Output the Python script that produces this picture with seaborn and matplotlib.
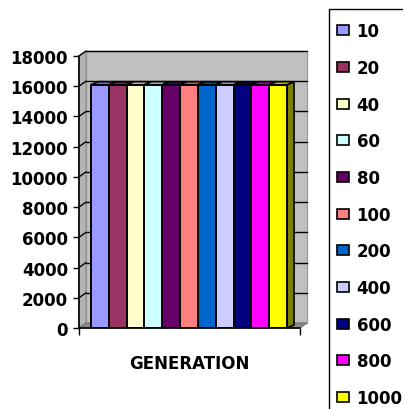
import matplotlib
matplotlib.use("Agg")
import matplotlib.pyplot as plt
from matplotlib.patches import Polygon, Rectangle, Patch
from matplotlib.lines import Line2D
import seaborn as sns
import pandas as pd

# Population size per generation setting
generations = ["10", "20", "40", "60", "80", "100", "200", "400", "600", "800", "1000"]
values = [16100, 16100, 16100, 16100, 16100, 16100, 16100, 16100, 16100, 16100, 16100]
colors = ["#9999FF", "#993366", "#FFFFCC", "#CCFFFF", "#660066", "#FF8080",
          "#0066CC", "#CCCCFF", "#000080", "#FF00FF", "#FFFF00"]
category = "GENERATION"
y_ticks = [0, 2000, 4000, 6000, 8000, 10000, 12000, 14000, 16000, 18000]

sns.set_theme(style="white")
plt.rcParams["font.family"] = ["DejaVu Sans"]
plt.rcParams["font.weight"] = "bold"
plt.rcParams["text.color"] = "black"
plt.rcParams["xtick.color"] = "black"
plt.rcParams["ytick.color"] = "black"
plt.rcParams["axes.labelcolor"] = "black"

df = pd.DataFrame({"cat": [category] * len(generations),
                   "gen": generations, "val": values})

W, H, DPI = 403, 410, 100
fig = plt.figure(figsize=(W / DPI, H / DPI), dpi=DPI, facecolor="white")
ax = fig.add_axes([79 / W, 1 - 329 / H, 221 / W, 272 / H])
ax.set_facecolor("none")

sns.barplot(data=df, x="cat", y="val", hue="gen", hue_order=generations,
            palette=colors, saturation=1, edgecolor="black", linewidth=1.4,
            width=0.8, legend=False, ax=ax, zorder=3)
bars = [p for c in ax.containers for p in c]

ax.set_xlim(-0.449, 0.453)
ax.set_ylim(0, 18000)
ax.set_yticks(y_ticks)
ax.set_xlabel("")
ax.set_ylabel("")

# 3D box: back wall, left wall and floor, offset into depth
ax_w, ax_h = 221.0, 272.0
dx_px, dy_px = 7.0, 5.0
dxa, dya = dx_px / ax_w, dy_px / ax_h
wall = Rectangle((dxa, dya), 1, 1, transform=ax.transAxes, clip_on=False,
                 facecolor="#c0c0c0", edgecolor="#a0a0a0", linewidth=1.0, zorder=0.5)
ax.add_patch(wall)
side = Polygon([(0, 0), (dxa, dya), (dxa, 1 + dya), (0, 1)], closed=True,
               transform=ax.transAxes, clip_on=False, facecolor="#b4b4b4",
               edgecolor="#8a8a8a", linewidth=0.8, zorder=0.6)
ax.add_patch(side)
floor = Polygon([(0, 0), (1, 0), (1 + dxa, dya), (dxa, dya)], closed=True,
                transform=ax.transAxes, clip_on=False, facecolor="#8c8c8c",
                edgecolor="#707070", linewidth=0.8, zorder=0.7)
ax.add_patch(floor)
for v in y_ticks[1:]:
    f = v / 18000
    ax.add_line(Line2D([dxa, 1 + dxa], [f + dya, f + dya], transform=ax.transAxes,
                       clip_on=False, color="black", linewidth=1.0, zorder=0.8))
    ax.add_line(Line2D([0, dxa], [f, f + dya], transform=ax.transAxes,
                       clip_on=False, color="black", linewidth=1.0, zorder=0.8))

# Bar tops and sides
bdx, bdy = 7.0, 3.0
inv = ax.transData.inverted()
o = inv.transform((0, 0))
d = inv.transform((bdx, bdy)) - o
ddx, ddy = d[0], d[1]


def shade(c, k):
    r, g, b = matplotlib.colors.to_rgb(c)
    return (r * k, g * k, b * k)


for p, c in zip(bars, colors):
    x0, w, h = p.get_x(), p.get_width(), p.get_height()
    x1 = x0 + w
    ax.add_patch(Polygon([(x1, 0), (x1 + ddx, ddy), (x1 + ddx, h + ddy), (x1, h)],
                         closed=True, facecolor=shade(c, 0.5), edgecolor="black",
                         linewidth=1.2, zorder=2, clip_on=False))
    ax.add_patch(Polygon([(x0, h), (x1, h), (x1 + ddx, h + ddy), (x0 + ddx, h + ddy)],
                         closed=True, facecolor=shade(c, 0.8), edgecolor="black",
                         linewidth=1.2, zorder=4, clip_on=False))

for s in ["top", "right"]:
    ax.spines[s].set_visible(False)
for s in ["left", "bottom"]:
    ax.spines[s].set_color("black")
    ax.spines[s].set_linewidth(1.2)
    ax.spines[s].set_zorder(5)

ax.tick_params(axis="y", length=4.3, width=1, pad=3.6, direction="out",
               labelsize=12, colors="black", left=True)
ax.tick_params(axis="x", which="major", length=0, pad=19, labelsize=12,
               labelcolor="black")
ax.set_xticks([ax.get_xlim()[0], ax.get_xlim()[1]], minor=True)
ax.tick_params(axis="x", which="minor", length=5, width=1, direction="out",
               bottom=True, colors="black")
for t in ax.get_xticklabels() + ax.get_yticklabels():
    t.set_fontweight("bold")
    t.set_color("black")

# Legend box running past the right and bottom edges
fig.patches.append(Rectangle((329 / W, -0.05), 0.3, 1 - 10 / H + 0.05,
                             transform=fig.transFigure, facecolor="white",
                             edgecolor="black", linewidth=1.0, zorder=1))
handles = [Patch(facecolor=c, edgecolor="black", linewidth=1.2) for c in colors]
leg = fig.legend(handles, generations, loc="upper left",
                 bbox_to_anchor=(329 / W, 1 - 15 / H), borderaxespad=0,
                 frameon=False, prop={"size": 12, "weight": "bold"},
                 handlelength=0.7, handleheight=0.55, handletextpad=0.45,
                 labelspacing=1.12, borderpad=0.5)
leg.set_zorder(3)
for t in leg.get_texts():
    t.set_color("black")

fig.savefig("out.png", dpi=DPI, facecolor="white")
